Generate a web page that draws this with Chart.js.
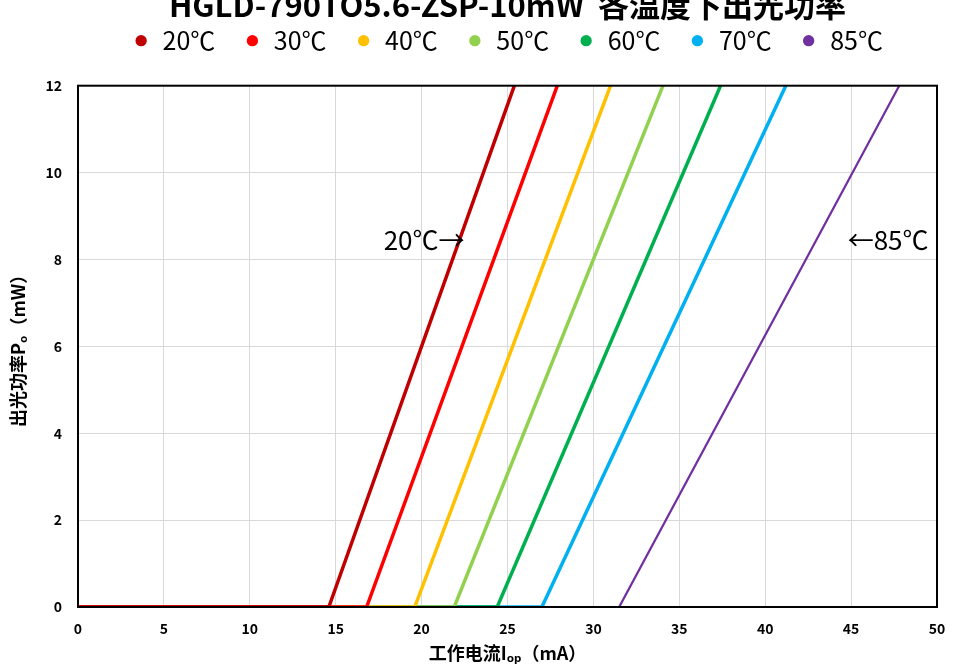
<!DOCTYPE html>
<html>
<head>
<meta charset="utf-8">
<script src="https://cdn.jsdelivr.net/npm/chart.js@4/dist/chart.umd.min.js"></script>
<style>
html,body{margin:0;padding:0;background:#fff;}
#wrap{width:956px;height:670px;}
</style>
</head>
<body>
<div id="wrap"><canvas id="c" width="956" height="670"></canvas></div>
<script>
const seriesNames = ['20℃','30℃','40℃','50℃','60℃','70℃','85℃'];
const seriesColors = ['#C00000','#FF0000','#FFC000','#92D050','#00B050','#00B0F0','#7030A0'];
// current (mA) points for each series, and output power (mW)
const current20 = [0, 14.6, 25.4];
const current30 = [0, 16.8, 27.9];
const current40 = [0, 19.6, 31.0];
const current50 = [0, 21.9, 34.05];
const current60 = [0, 24.4, 37.4];
const current70 = [0, 27.0, 41.2];
const current85 = [0, 31.5, 47.8];
const power = [0, 0, 12];
const xTicks = [0,5,10,15,20,25,30,35,40,45,50];
const yTicks = [0,2,4,6,8,10,12];

const currents = [current20,current30,current40,current50,current60,current70,current85];
const widths = [3.5,3.5,3.5,3.5,3.5,3.5,2.25];
const FONT = "'Noto Sans CJK SC', 'Noto Sans', sans-serif";

const datasets = currents.map((cur,i)=>({
  label: seriesNames[i],
  data: cur.map((x,j)=>({x:x,y:power[j]})),
  borderColor: seriesColors[i],
  backgroundColor: seriesColors[i],
  borderWidth: widths[i],
  pointRadius: 0,
  pointStyle: 'circle',
  showLine: true,
  fill: false,
  tension: 0,
  xAxisID: 'x',
  yAxisID: 'y'
}));

const frame = {
  id:'frame',
  afterDatasetsDraw(chart){
    const {ctx, chartArea:a} = chart;
    ctx.save();
    ctx.strokeStyle='#000';
    ctx.lineWidth=2;
    ctx.strokeRect(a.left,a.top,a.right-a.left,a.bottom-a.top);
    ctx.restore();
  }
};
const notes = {
  id:'notes',
  afterDraw(chart){
    const {ctx} = chart;
    const xs = chart.scales.x, ys = chart.scales.y;
    ctx.save();
    ctx.font = "26px " + FONT;
    ctx.fillStyle = '#000';
    ctx.textBaseline = 'middle';
    ctx.textAlign = 'right';
    ctx.fillText('20℃→', xs.getPixelForValue(22.5), ys.getPixelForValue(8.45));
    ctx.textAlign = 'left';
    ctx.fillText('←85℃', xs.getPixelForValue(44.8), ys.getPixelForValue(8.45));
    ctx.restore();
  }
};

new Chart(document.getElementById('c'), {
  type: 'scatter',
  data: { datasets },
  options: {
    responsive: false,
    animation: false,
    layout: { padding: { top: 0, right: 19, left: 7, bottom: 6 } },
    plugins: {
      title: {
        display: true,
        fullSize: false,
        text: 'HGLD-790TO5.6-ZSP-10mW  各温度下出光功率',
        font: { family: FONT, size: 31, weight: 'bold' },
        color: '#000',
        padding: { top: -13, bottom: -24 }
      },
      legend: {
        display: true,
        fullSize: false,
        labels: {
          usePointStyle: true,
          pointStyle: 'circle',
          boxWidth: 18,
          boxHeight: 8,
          padding: 28,
          font: { family: FONT, size: 25 },
          color: '#000',
          generateLabels(chart){
            return chart.data.datasets.map((d,i)=>({
              text: d.label, fillStyle: d.borderColor, strokeStyle: d.borderColor,
              lineWidth: 0, pointStyle:'circle', datasetIndex:i, hidden:false
            }));
          }
        }
      },
      tooltip: { enabled: false }
    },
    scales: {
      xTop: {
        type: 'linear', position: 'top', display: true, min: 0, max: 50,
        ticks: { display: false },
        grid: { display: false, drawTicks: false },
        border: { display: false },
        afterFit(s){ s.height = 22.5; s.paddingLeft = 0; s.paddingRight = 0; }
      },
      x: {
        type: 'linear', position: 'bottom', min: 0, max: 50,
        afterBuildTicks(s){ s.ticks = xTicks.map(v=>({value:v})); },
        ticks: { font: { family: FONT, size: 14, weight: 'bold' }, color: '#000', padding: 13 },
        grid: { color: '#D9D9D9', drawTicks: false, lineWidth: 1 },
        border: { display: false },
        title: { display: true, text: '工作电流Iₒₚ（mA）', font: { family: FONT, size: 18, weight: 'bold' }, color: '#000', padding: { top: 2, bottom: 0 } },
        afterFit(s){ s.height = 57; s.paddingLeft = 0; s.paddingRight = 0; }
      },
      y: {
        type: 'linear', position: 'left', min: 0, max: 12,
        afterBuildTicks(s){ s.ticks = yTicks.map(v=>({value:v})); },
        ticks: { font: { family: FONT, size: 14, weight: 'bold' }, color: '#000', padding: 16 },
        grid: { color: '#D9D9D9', drawTicks: false, lineWidth: 1 },
        border: { display: false },
        title: { display: true, text: '出光功率Pₒ（mW）', font: { family: FONT, size: 18, weight: 'bold' }, color: '#000', padding: { top: 0, bottom: 0 } },
        afterFit(s){ s.width = 71; }
      }
    }
  },
  plugins: [frame, notes]
});
</script>
</body>
</html>
